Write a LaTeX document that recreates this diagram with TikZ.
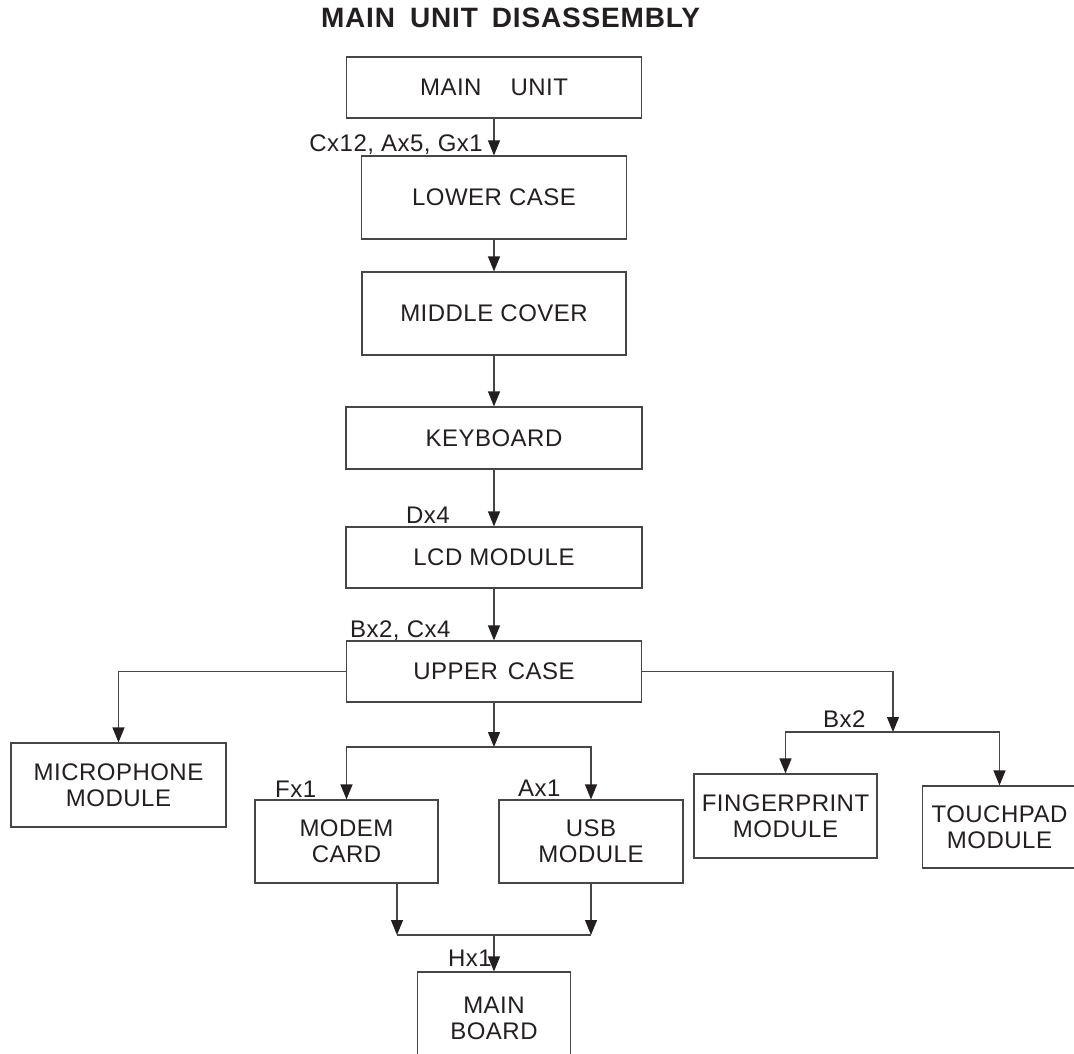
\documentclass[tikz,border=0pt]{standalone}
\usepackage{fontspec}
\setmainfont{Liberation Sans}
\usetikzlibrary{arrows.meta}
\definecolor{ink}{RGB}{35,31,32}
\definecolor{linegray}{RGB}{70,70,70}
\newcommand\bodyfont{\fontsize{24}{26}\selectfont\addfontfeature{LetterSpace=2}}
\newcommand\titlefont{\fontsize{28}{32}\selectfont\bfseries\addfontfeature{LetterSpace=3}}
\begin{document}
\begin{tikzpicture}[x=1pt,y=-1pt,
  box/.style={draw=linegray, line width=1.2pt, text=ink, inner sep=0pt, font=\bodyfont, align=center},
  lab/.style={text=ink, inner sep=0pt, font=\bodyfont},
  conn/.style={draw=linegray, line width=1.2pt},
  arr/.style={conn, -{Triangle[length=15pt,width=12pt,color=ink]}}]
\useasboundingbox (0,0) rectangle (1074,1054);
\fill[white] (0,0) rectangle (1074,1054);

\node[anchor=base, font=\titlefont, text=ink, inner sep=0pt] (title) at (510.5,28) {MAIN\hspace*{15pt}UNIT\hspace*{14pt}DISASSEMBLY};

\node[box, minimum width=295pt, minimum height=61pt] (mainunit) at (494,87.5) {MAIN\hspace*{29pt}UNIT};
\node[box, minimum width=265pt, minimum height=83pt] (lowercase) at (494,197.5) {LOWER CASE};
\node[box, minimum width=264pt, minimum height=83pt] (middlecover) at (494,313.5) {MIDDLE COVER};
\node[box, minimum width=296pt, minimum height=62pt] (keyboard) at (494,438) {KEYBOARD};
\node[box, minimum width=296pt, minimum height=61pt] (lcd) at (494,557.5) {LCD MODULE};
\node[box, minimum width=295pt, minimum height=61pt] (uppercase) at (494,671.5) {UPPER\hspace*{10pt}CASE};
\node[box, minimum width=215pt, minimum height=84pt] (microphone) at (118.5,785) {MICROPHONE\\MODULE};
\node[box, minimum width=183pt, minimum height=83pt] (modem) at (346.5,841.5) {MODEM\\CARD};
\node[box, minimum width=184pt, minimum height=83pt] (usb) at (591,841.5) {USB\\MODULE};
\node[box, minimum width=183pt, minimum height=84pt] (fingerprint) at (785.5,816) {FINGERPRINT\\MODULE};
\node[box, minimum width=154pt, minimum height=82pt] (touchpad) at (999.5,827) {TOUCHPAD\\MODULE};
\node[box, minimum width=153pt, minimum height=92pt] (mainboard) at (494,1018) {MAIN\\BOARD};

\node[lab, anchor=base east] (l1) at (483,152) {Cx12, Ax5, Gx1};
\node[lab, anchor=base west] (l2) at (406,523) {Dx4};
\node[lab, anchor=base west] (l3) at (350,637) {Bx2, Cx4};
\node[lab, anchor=base west] (l4) at (275,797) {Fx1};
\node[lab, anchor=base west] (l5) at (518,796) {Ax1};
\node[lab, anchor=base west] (l6) at (823,727) {Bx2};
\node[lab, anchor=base west] (l7) at (448,966) {Hx1};

\draw[arr] (mainunit.south) -- (lowercase.north);
\draw[arr] (lowercase.south) -- (middlecover.north);
\draw[arr] (middlecover.south) -- (keyboard.north);
\draw[arr] (keyboard.south) -- (lcd.north);
\draw[arr] (lcd.south) -- (uppercase.north);

\draw[arr] (uppercase.west) -| (microphone.north);

\coordinate (rsplit) at (893,732);
\draw[arr] (uppercase.east) -| (rsplit);
\draw[arr] (rsplit) -| (fingerprint.north);
\draw[arr] (rsplit) -| (touchpad.north);

\coordinate (msplit) at (494,747);
\draw[arr] (uppercase.south) -- (msplit);
\draw[arr] (msplit) -| (modem.north);
\draw[arr] (msplit) -| (usb.north);

\coordinate (jl) at (397,935);
\coordinate (jr) at (591,935);
\coordinate (jm) at (494,935);
\draw[arr] (modem.south -| jl) -- (jl);
\draw[arr] (usb.south) -- (jr);
\draw[conn] (jl) -- (jr);
\draw[arr] (jm) -- (mainboard.north);
\end{tikzpicture}
\end{document}
